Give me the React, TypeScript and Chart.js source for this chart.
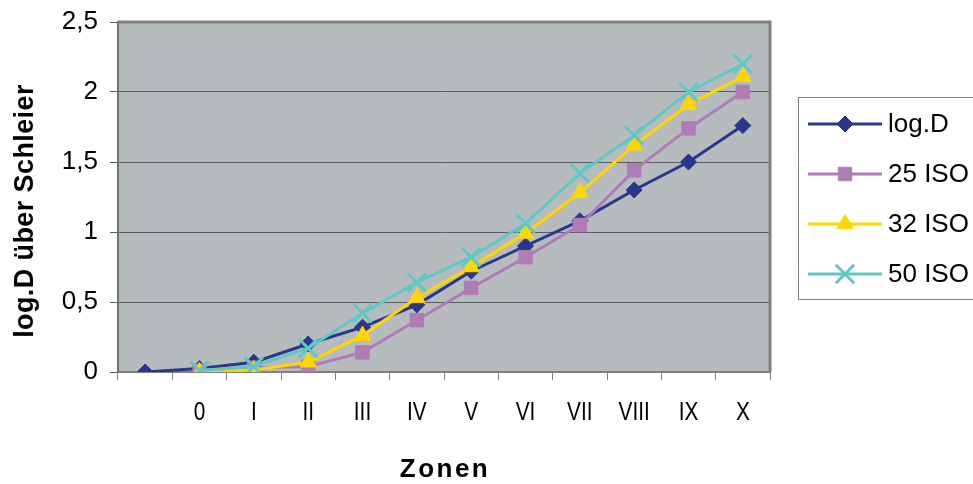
import React, { useEffect, useRef } from 'react';
import { Chart, registerables } from 'chart.js';
import { drawPoint } from 'chart.js/helpers';

Chart.register(...registerables);

// ---- data ----
const zoneLabels = ['', '0', 'I', 'II', 'III', 'IV', 'V', 'VI', 'VII', 'VIII', 'IX', 'X'];
const logD = [0, 0.025, 0.07, 0.2, 0.32, 0.48, 0.72, 0.9, 1.08, 1.3, 1.5, 1.76];
const iso25 = [null, 0.01, 0.03, 0.04, 0.14, 0.37, 0.6, 0.82, 1.05, 1.44, 1.74, 2.0];
const iso32 = [null, 0.0, 0.015, 0.07, 0.26, 0.53, 0.75, 0.99, 1.28, 1.62, 1.91, 2.11];
const iso50 = [null, 0.01, 0.04, 0.17, 0.42, 0.64, 0.82, 1.06, 1.42, 1.69, 2.0, 2.2];
const seriesNames = ['log.D', '25 ISO', '32 ISO', '50 ISO'];
const yAxisTitle = 'log.D über Schleier';
const xAxisTitle = 'Zonen';
const yMin = 0;
const yMax = 2.5;
const yStep = 0.5;

const COLORS = ['#28378c', '#b07cb6', '#ffd700', '#5fc8c3'];
const STYLES = ['rectRot', 'rect', 'triangle', 'crossRot'];
const RADII = [8, 9.5, 9.5, 13];
const FONT = '"Liberation Sans", Arial, sans-serif';

const decor = {
  id: 'decor',
  beforeDraw(chart: any) {
    const { ctx, chartArea: a } = chart;
    ctx.save();
    ctx.fillStyle = '#ffffff';
    ctx.fillRect(0, 0, chart.width, chart.height);
    ctx.fillStyle = '#b6bbbe';
    ctx.fillRect(a.left, a.top, a.right - a.left, a.bottom - a.top);
    ctx.restore();
  },
  beforeDatasetsDraw(chart: any) {
    const { ctx, chartArea: a } = chart;
    ctx.save();
    ctx.strokeStyle = '#808080';
    ctx.lineWidth = 3;
    ctx.beginPath();
    ctx.moveTo(a.left, a.top);
    ctx.lineTo(a.right, a.top);
    ctx.lineTo(a.right, a.bottom);
    ctx.stroke();
    ctx.restore();
  },
  afterDraw(chart: any) {
    const { ctx, chartArea: a } = chart;
    const xs = chart.scales.x;

    // x tick labels (condensed, as in the reference)
    ctx.save();
    ctx.fillStyle = '#000';
    ctx.font = `26px ${FONT}`;
    ctx.textAlign = 'center';
    ctx.textBaseline = 'alphabetic';
    (chart.data.labels as string[]).forEach((lab, i) => {
      const x = xs.getPixelForValue(i);
      ctx.save();
      ctx.translate(x, 420);
      ctx.scale(0.8, 1);
      ctx.fillText(lab, 0, 0);
      ctx.restore();
    });
    ctx.restore();

    // y title
    ctx.save();
    ctx.fillStyle = '#000';
    ctx.font = `bold 27px ${FONT}`;
    (ctx as any).letterSpacing = '0.4px';
    ctx.textAlign = 'center';
    ctx.textBaseline = 'alphabetic';
    ctx.translate(33, 211);
    ctx.rotate(-Math.PI / 2);
    ctx.fillText(yAxisTitle, 0, 0);
    ctx.restore();

    // x title
    ctx.save();
    ctx.fillStyle = '#000';
    ctx.font = `bold 26px ${FONT}`;
    (ctx as any).letterSpacing = '2.5px';
    ctx.textAlign = 'center';
    ctx.textBaseline = 'alphabetic';
    ctx.fillText(xAxisTitle, (a.left + a.right) / 2 + 1, 477);
    ctx.restore();

    // legend
    ctx.save();
    ctx.fillStyle = '#ffffff';
    ctx.strokeStyle = '#808080';
    ctx.lineWidth = 1;
    ctx.fillRect(798.5, 97.5, 200, 202);
    ctx.strokeRect(798.5, 97.5, 200, 202);
    chart.data.datasets.forEach((ds: any, i: number) => {
      const y = 124 + i * 50;
      ctx.strokeStyle = ds.borderColor;
      ctx.lineWidth = 3;
      ctx.beginPath();
      ctx.moveTo(808, y);
      ctx.lineTo(882, y);
      ctx.stroke();
      ctx.fillStyle = ds.backgroundColor;
      ctx.strokeStyle = ds.pointBorderColor;
      ctx.lineWidth = ds.pointBorderWidth;
      drawPoint(ctx, { pointStyle: ds.pointStyle, radius: ds.pointRadius, rotation: 0, borderWidth: ds.pointBorderWidth }, 845, y);
      ctx.fillStyle = '#000';
      ctx.font = `26px ${FONT}`;
      ctx.textAlign = 'left';
      ctx.textBaseline = 'middle';
      ctx.fillText(ds.label, 888, y + 1);
    });
    ctx.restore();
  },
};

export default function App() {
  const ref = useRef<HTMLCanvasElement | null>(null);
  useEffect(() => {
    if (!ref.current) return;
    const series = [logD, iso25, iso32, iso50];
    const chart = new Chart(ref.current, {
      type: 'line',
      data: {
        labels: zoneLabels,
        datasets: series.map((d, i) => ({
          label: seriesNames[i],
          data: d,
          borderColor: COLORS[i],
          backgroundColor: COLORS[i],
          borderWidth: 3,
          pointStyle: STYLES[i],
          pointRadius: RADII[i],
          pointBorderColor: COLORS[i],
          pointBackgroundColor: COLORS[i],
          pointBorderWidth: i === 3 ? 3 : 1,
          tension: 0,
          order: 4 - i,
        })),
      },
      options: {
        animation: false,
        responsive: false,
        devicePixelRatio: 1,
        layout: { padding: { left: 0, right: 203, top: 22, bottom: 0 } },
        plugins: { legend: { display: false }, tooltip: { enabled: false } },
        scales: {
          x: {
            offset: true,
            grid: { offset: true, drawOnChartArea: false, drawTicks: true, tickLength: 8, color: '#808080' },
            border: { color: '#808080', width: 2 },
            ticks: { autoSkip: false, maxRotation: 0, padding: 16, display: false },
            afterFit: (s: any) => { s.height = 112; s.paddingLeft = 0; s.paddingRight = 0; },
          },
          y: {
            min: yMin,
            max: yMax,
            ticks: {
              stepSize: yStep,
              padding: 12,
              color: '#000',
              font: { family: FONT, size: 26 },
              callback: (v: any) => String(v).replace('.', ','),
            },
            grid: { color: '#5a5a5a', lineWidth: 1, tickLength: 8 },
            border: { color: '#707070', width: 2 },
            afterFit: (s: any) => { s.width = 118; s.paddingTop = 0; s.paddingBottom = 0; },
          },
        },
      },
      plugins: [decor],
    } as any);
    return () => chart.destroy();
  }, []);
  return (
    <div style={{ position: 'absolute', left: 0, top: 0, width: 973, height: 484 }}>
      <canvas ref={ref} width={973} height={484} />
    </div>
  );
}
